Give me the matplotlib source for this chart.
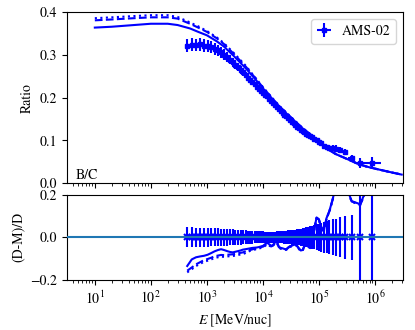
import numpy as np
import matplotlib
matplotlib.use("Agg")
import matplotlib.pyplot as plt

plt.rcParams['font.family'] = 'STIXGeneral'
plt.rcParams['mathtext.fontset'] = 'stix'
plt.rcParams['font.size'] = 10

# AMS-02 B/C, kinetic energy per nucleon [MeV/nuc]
e_data = [446, 537, 640, 759, 890, 1034, 1198, 1375, 1574, 1793,
          2034, 2296, 2585, 2894, 3230, 3596, 3993, 4401, 4894, 5388,
          5908, 6478, 7098, 7769, 8490, 9260, 10080, 10980, 11950, 12980,
          14070, 15250, 16490, 17840, 19290, 20840, 22490, 24260, 26160, 28180,
          30360, 32710, 35230, 37930, 40830, 43930, 47330, 51080, 55080, 59330,
          64070, 69580, 75830, 82830, 90830, 99800, 110100, 122100, 136600, 154300,
          176300, 204100, 240600, 295000, 384000, 549000, 899000]
e_edges = [406, 491, 588, 697, 822, 959, 1113, 1284, 1472, 1681,
           1911, 2162, 2435, 2734, 3059, 3410, 3792, 4204, 4647, 5141,
           5635, 6180, 6775, 7421, 8117, 8863, 9660, 10510, 11450, 12450,
           13500, 14650, 15850, 17140, 18540, 20040, 21640, 23340, 25190, 27140,
           29230, 31480, 33930, 36530, 39330, 42330, 45580, 49080, 53080, 57080,
           61580, 66580, 72580, 79070, 86570, 95070, 104600, 115600, 128600, 144600,
           164100, 188600, 219600, 261600, 329100, 439100, 649100, 1299000]
bc_data = [0.322, 0.324, 0.323, 0.325, 0.322, 0.321, 0.318, 0.314, 0.311, 0.306,
           0.301, 0.295, 0.289, 0.283, 0.277, 0.271, 0.265, 0.259, 0.253, 0.247,
           0.242, 0.237, 0.231, 0.226, 0.221, 0.216, 0.212, 0.207, 0.203, 0.198,
           0.193, 0.188, 0.183, 0.178, 0.174, 0.169, 0.165, 0.160, 0.156, 0.152,
           0.148, 0.144, 0.140, 0.136, 0.132, 0.128, 0.125, 0.122, 0.119, 0.116,
           0.113, 0.110, 0.107, 0.104, 0.100, 0.097, 0.093, 0.086, 0.084, 0.083,
           0.082, 0.081, 0.078, 0.072, 0.059, 0.047, 0.048]
rel_err = [0.046, 0.046, 0.045, 0.045, 0.044, 0.044, 0.043, 0.043, 0.042, 0.041,
           0.040, 0.039, 0.038, 0.037, 0.036, 0.035, 0.034, 0.033, 0.032, 0.031,
           0.030, 0.030, 0.029, 0.029, 0.028, 0.028, 0.028, 0.027, 0.027, 0.027,
           0.027, 0.027, 0.027, 0.028, 0.028, 0.029, 0.029, 0.030, 0.031, 0.032,
           0.033, 0.034, 0.035, 0.036, 0.037, 0.038, 0.040, 0.042, 0.044, 0.046,
           0.048, 0.051, 0.054, 0.057, 0.060, 0.064, 0.068, 0.072, 0.076, 0.080,
           0.084, 0.088, 0.093, 0.100, 0.105, 0.26, 0.28]

# model curves
e_model = [10, 20, 50, 100, 200, 300, 500, 700, 1e3, 1.5e3,
           2e3, 3e3, 5e3, 7e3, 1e4, 1.5e4, 2e4, 3e4, 5e4, 7e4,
           1e5, 1.5e5, 2e5, 3e5, 5e5, 7e5, 1e6, 2e6, 3e6]
bc_solid = [0.364, 0.366, 0.370, 0.373, 0.373, 0.370, 0.362, 0.354, 0.346, 0.332,
            0.320, 0.298, 0.268, 0.246, 0.222, 0.196, 0.178, 0.156, 0.129, 0.114,
            0.096, 0.078, 0.068, 0.058, 0.045, 0.039, 0.034, 0.025, 0.020]
bc_dashed = [0.381, 0.383, 0.386, 0.388, 0.388, 0.385, 0.373, 0.364, 0.354, 0.339,
             0.326, 0.303, 0.272, 0.249, 0.224, 0.197, 0.179, 0.157, 0.130, 0.114,
             0.096, 0.078, 0.068, 0.058, 0.045, 0.039, 0.034, 0.025, 0.020]
bc_dotted = [0.386, 0.388, 0.391, 0.393, 0.393, 0.389, 0.376, 0.367, 0.356, 0.341,
             0.328, 0.305, 0.274, 0.250, 0.225, 0.198, 0.180, 0.158, 0.130, 0.115,
             0.096, 0.078, 0.068, 0.058, 0.045, 0.039, 0.034, 0.025, 0.020]

# (D-M)/D at the data energies
res_solid = [-0.135, -0.104, -0.094, -0.090, -0.087, -0.082, -0.074, -0.066, -0.060, -0.056,
             -0.060, -0.065, -0.069, -0.071, -0.068, -0.065, -0.062, -0.058, -0.056, -0.054,
             -0.052, -0.050, -0.049, -0.048, -0.046, -0.043, -0.040, -0.032, -0.026, -0.033,
             -0.040, -0.036, -0.020, -0.022, -0.045, -0.050, -0.052, -0.055, -0.056, -0.048,
             -0.042, -0.040, -0.036, -0.033, -0.040, -0.052, -0.062, -0.060, -0.040, -0.027,
             -0.040, -0.049, -0.042, 0.040, 0.093, 0.085, 0.048, 0.030, 0.090, 0.125,
             0.180, 0.250, 0.290, 0.250, 0.170, 0.155, 0.300]
res_dashed = [-0.157, -0.142, -0.127, -0.117, -0.107, -0.102, -0.096, -0.089, -0.086, -0.083,
              -0.084, -0.082, -0.081, -0.080, -0.078, -0.075, -0.073, -0.071, -0.066, -0.060,
              -0.060, -0.057, -0.054, -0.052, -0.049, -0.046, -0.044, -0.037, -0.031, -0.037,
              -0.043, -0.039, -0.023, -0.025, -0.047, -0.052, -0.054, -0.057, -0.058, -0.050,
              -0.044, -0.042, -0.038, -0.035, -0.042, -0.054, -0.064, -0.062, -0.042, -0.029,
              -0.042, -0.051, -0.044, 0.038, 0.091, 0.083, 0.046, 0.028, 0.088, 0.123,
              0.178, 0.248, 0.288, 0.248, 0.168, 0.153, 0.298]
res_dotted = [-0.165, -0.150, -0.135, -0.125, -0.115, -0.110, -0.104, -0.097, -0.094, -0.091,
              -0.092, -0.090, -0.089, -0.088, -0.086, -0.083, -0.081, -0.079, -0.074, -0.068,
              -0.064, -0.061, -0.058, -0.056, -0.053, -0.050, -0.048, -0.040, -0.034, -0.039,
              -0.045, -0.041, -0.025, -0.027, -0.049, -0.054, -0.056, -0.058, -0.059, -0.051,
              -0.045, -0.043, -0.039, -0.036, -0.043, -0.055, -0.065, -0.063, -0.043, -0.030,
              -0.043, -0.052, -0.045, 0.037, 0.090, 0.082, 0.045, 0.027, 0.087, 0.122,
              0.177, 0.247, 0.287, 0.247, 0.167, 0.152, 0.297]

e = np.array(e_data, dtype=float)
edges = np.array(e_edges, dtype=float)
d = np.array(bc_data)
rel = np.array(rel_err)
xerr = [e - edges[:-1], edges[1:] - e]

fig = plt.figure(figsize=(4.15, 3.3), dpi=100)
ax = fig.add_axes([0.161, 0.445, 0.810, 0.518])
ax2 = fig.add_axes([0.161, 0.152, 0.810, 0.258], sharex=ax)

ax.plot(e_model, bc_solid, 'b-', lw=1.5)
ax.plot(e_model, bc_dashed, 'b--', lw=1.5)
ax.plot(e_model, bc_dotted, 'b:', lw=1.5)
ax.errorbar(e, d, yerr=rel * d, xerr=xerr, fmt='s', color='b', ms=3,
            elinewidth=1.5, label='AMS-02')
ax.set_xscale('log')
ax.set_xlim(10**0.5, 10**6.5)
ax.set_ylim(0, 0.4)
ax.set_yticks([0.0, 0.1, 0.2, 0.3, 0.4])
ax.set_ylabel('Ratio')
ax.tick_params(labelbottom=False)
ax.text(0.025, 0.025, 'B/C', transform=ax.transAxes)
ax.legend(loc='upper right', fontsize=10, handlelength=1.0)

ax2.errorbar(e, np.zeros_like(e), yerr=rel, fmt='x', color='b', ms=4,
             mew=1.5, elinewidth=1.5)
ax2.plot(e, res_solid, 'b-', lw=1.5)
ax2.plot(e, res_dashed, 'b--', lw=1.5)
ax2.plot(e, res_dotted, 'b:', lw=1.5)
ax2.axhline(0, color='C0', lw=1.5, zorder=5)
ax2.set_ylim(-0.2, 0.2)
ax2.set_yticks([-0.2, 0.0, 0.2])
ax2.set_ylabel('(D-M)/D')
ax2.set_xlabel(r'$E$ [MeV/nuc]')

fig.savefig('out.png', dpi=100)
